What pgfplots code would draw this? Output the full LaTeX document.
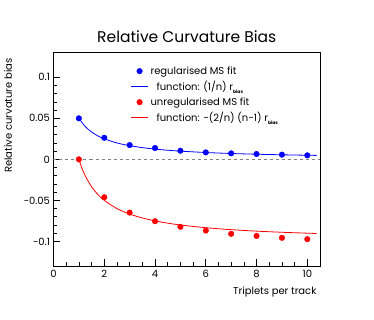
\documentclass[border=0pt]{standalone}
\usepackage{fontspec}
\setmainfont{Poppins}
\usepackage{pgfplots}
\pgfplotsset{compat=1.18}
\definecolor{rootblue}{RGB}{0,0,255}
\definecolor{rootred}{RGB}{255,0,0}
\newcommand{\rbias}{r\raisebox{-0.45ex}{\fontsize{4.5}{5}\selectfont\bfseries bias}}
\begin{document}
\begin{tikzpicture}
\begin{axis}[
  scale only axis, width=266.5pt, height=213.3pt,
  xmin=0, xmax=10.5, ymin=-0.13, ymax=0.13,
  axis line style={line width=0.8pt},
  tick pos=left, tick align=inside,
  xtick={0,2,...,10}, minor x tick num=3,
  ytick={-0.1,-0.05,0,0.05,0.1},
  yticklabels={−0.1,−0.05,0,0.05,0.1},
  minor y tick num=4,
  major tick length=7pt, minor tick length=3.5pt,
  tick style={line width=0.6pt, black},
  /pgf/number format/assume math mode=true,
  ticklabel style={font=\fontsize{10}{12}\selectfont},
  xticklabel style={yshift=-1pt},
  title={Relative Curvature Bias},
  title style={at={(axis description cs:0.5,1)}, anchor=base, yshift=4.4pt, font=\fontsize{15.5}{18}\selectfont},
  xlabel={Triplets per track},
  xlabel style={at={(axis description cs:1,0)}, anchor=north east, yshift=-17pt, font=\fontsize{10}{12}\selectfont},
  ylabel={Relative curvature bias},
  ylabel style={at={(axis description cs:-0.143,0.99)}, anchor=south east, font=\fontsize{10}{12}\selectfont},
  legend style={at={(axis description cs:0.285,0.95)}, anchor=north west, draw=none, fill=none,
    font=\fontsize{10}{12}\selectfont, row sep=1.5pt, inner sep=1pt},
  legend cell align=left,
]
\addplot[gray, dashed, line width=0.6pt, forget plot] coordinates {(0,0) (10.5,0)};
% regularised MS fit
\addplot[only marks, mark=*, mark size=2.8pt, color=rootblue] coordinates {
  (1,0.0500) (2,0.0263) (3,0.0174) (4,0.0138) (5,0.0105)
  (6,0.0085) (7,0.0073) (8,0.0065) (9,0.0057) (10,0.0049)
};
\addlegendentry{regularised MS fit}
\addplot[smooth, no marks, line width=0.8pt, color=rootblue] coordinates {
  (1,0.05) (1.25,0.04) (1.5,0.03333) (1.75,0.02857) (2,0.025) (2.5,0.02)
  (3,0.01667) (3.5,0.01429) (4,0.0125) (4.5,0.01111) (5,0.01) (6,0.00833)
  (7,0.00714) (8,0.00625) (9,0.00556) (10,0.005) (10.37,0.00482)
};
\addlegendentry{\hspace{6pt}function: (1/n) \rbias}
% unregularised MS fit
\addplot[only marks, mark=*, mark size=2.8pt, color=rootred] coordinates {
  (1,0.0000) (2,-0.0462) (3,-0.0649) (4,-0.0754) (5,-0.0823)
  (6,-0.0868) (7,-0.0908) (8,-0.0933) (9,-0.0957) (10,-0.0973)
};
\addlegendentry{unregularised MS fit}
\addplot[smooth, no marks, line width=0.8pt, color=rootred] coordinates {
  (1,0) (1.1,-0.00909) (1.25,-0.02) (1.5,-0.03333) (1.75,-0.04286) (2,-0.05)
  (2.5,-0.06) (3,-0.06667) (3.5,-0.07143) (4,-0.075) (4.5,-0.07778) (5,-0.08)
  (6,-0.08333) (7,-0.08571) (8,-0.0875) (9,-0.08889) (10,-0.09) (10.37,-0.09036)
};
\addlegendentry{\hspace{6pt}function: −(2/n) (n−1) \rbias}
\end{axis}
\path (current axis.south west) ++(-53.5pt,-54pt) rectangle ++(374pt,320pt);
\end{tikzpicture}
\end{document}
